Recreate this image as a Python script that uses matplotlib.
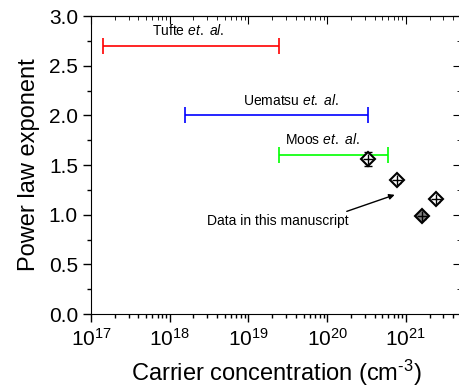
import matplotlib.pyplot as plt
import numpy as np

plt.rcParams["font.family"] = ["Liberation Sans", "DejaVu Sans"]
plt.rcParams["mathtext.fontset"] = "custom"
plt.rcParams["mathtext.rm"] = "Liberation Sans"
plt.rcParams["mathtext.it"] = "Liberation Sans:italic"

# Literature ranges (carrier concentration span, exponent)
refs = ["Tufte", "Uematsu", "Moos"]
ref_lo = [1.4e17, 1.57e18, 2.45e19]
ref_hi = [2.43e19, 3.3e20, 6.0e20]
ref_y = [2.7, 2.0, 1.6]
ref_colors = ["#ff0000", "#0000ff", "#00ff00"]
ref_label_x = [1.7e18, 3.5e19, 8.7e19]
ref_label_y = [2.85, 2.15, 1.76]

# Data in this manuscript
conc = [3.3e20, 7.7e20, 1.62e21, 2.4e21]
expo = [1.558, 1.35, 0.99, 1.155]
expo_err = [0.07, 0.03, 0.03, 0.03]
face = ["white", "white", "#808080", "white"]

fig = plt.figure(figsize=(4.6, 3.88), dpi=100)
ax = fig.add_axes([0.198, 0.1907, 0.804, 0.768])

for lo, hi, y, c in zip(ref_lo, ref_hi, ref_y, ref_colors):
    mid = np.sqrt(lo * hi)
    ax.errorbar([mid], [y], xerr=[[mid - lo], [hi - mid]], fmt="none",
                ecolor=c, elinewidth=1.2, capsize=6, capthick=1.2)

for name, x, y in zip(refs, ref_label_x, ref_label_y):
    ax.text(x, y, name + r" $\mathit{et.\ al.}$", ha="center", va="center", fontsize=10)

ax.errorbar(conc, expo, yerr=expo_err, fmt="none", ecolor="black",
            elinewidth=1, capsize=3, capthick=1, zorder=3)
for x, y, f in zip(conc, expo, face):
    ax.plot(x, y, marker="D", ms=7, mfc=f, mec="black", mew=1.5, zorder=4)
    ax.plot(x, y, marker="+", ms=7, mec="black", mew=1, zorder=5)

ax.annotate("Data in this manuscript", xy=(7.2e20, 1.20), xytext=(2.36e19, 0.935),
            fontsize=10, ha="center", va="center",
            arrowprops=dict(arrowstyle="-|>", color="black", lw=1,
                            shrinkA=0, shrinkB=0, mutation_scale=8,
                            relpos=(0.93, 1.0)))

ax.set_xscale("log")
ax.set_xlim(1e17, 5e21)
ax.set_ylim(0, 3.0)
ax.set_yticks(np.arange(0, 3.01, 0.5))
ax.set_yticks(np.arange(0, 3.01, 0.25), minor=True)
ax.yaxis.set_major_formatter(plt.FormatStrFormatter("%.1f"))
ax.set_xticks([1e17, 1e18, 1e19, 1e20, 1e21])

ax.tick_params(which="both", direction="out", labelsize=15, width=1)
ax.tick_params(which="major", length=6)
ax.tick_params(which="minor", length=3)
ax.tick_params(axis="x", pad=4)

top = ax.secondary_xaxis("top")
top.set_xticks([1e17, 1e18, 1e19, 1e20, 1e21])
top.tick_params(which="both", direction="in", labeltop=False)
top.tick_params(which="major", length=6)
top.tick_params(which="minor", length=3)
right = ax.secondary_yaxis("right")
right.set_yticks(np.arange(0, 3.01, 0.5))
right.set_yticks(np.arange(0, 3.01, 0.25), minor=True)
right.tick_params(which="both", direction="in", labelright=False)
right.tick_params(which="major", length=6)
right.tick_params(which="minor", length=3)

ax.set_xlabel("Carrier concentration (cm$^{\\text{-3}}$)", fontsize=17, labelpad=6)
ax.set_ylabel("Power law exponent", fontsize=17, labelpad=6)

fig.savefig("out.png", dpi=100)
